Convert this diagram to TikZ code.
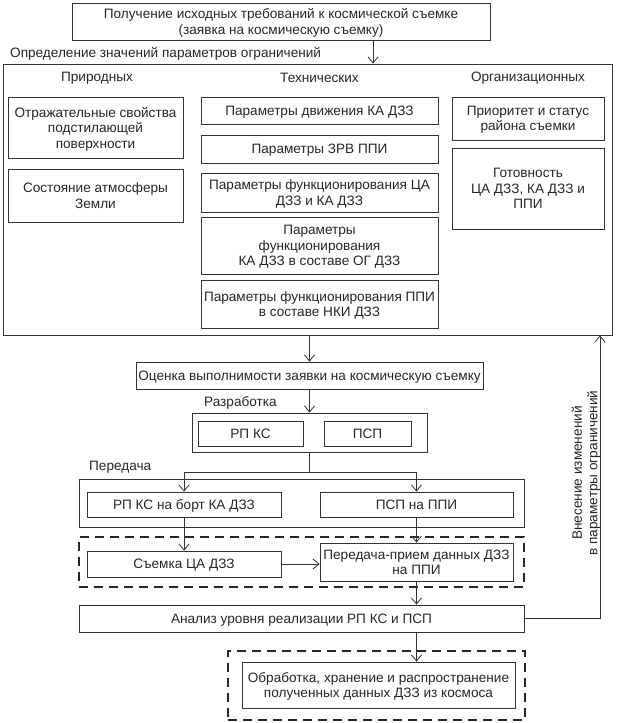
\documentclass[tikz,border=0pt]{standalone}
\usepackage{fontspec}
\setmainfont{Liberation Sans}
\usetikzlibrary{arrows.meta}
\begin{document}
\begin{tikzpicture}[x=1pt,y=-1pt,
  every node/.style={font=\fontsize{13.6}{15.5}\selectfont, text=black!85},
  box/.style={draw=black!80, line width=0.9pt, inner sep=0pt, align=center, text depth=-2pt},
  dbox/.style={draw=black!85, line width=2.2pt, dash pattern=on 9pt off 6pt, inner sep=0pt},
  lbl/.style={inner sep=0pt, anchor=west},
  arr/.style={draw=black!80, line width=0.8pt, -{Straight Barb[length=6pt,width=10pt,line width=0.8pt]}},
  ln/.style={draw=black!80, line width=0.8pt}]
\useasboundingbox (0,0) rectangle (618,723);
% top
\node[box, minimum width=418, minimum height=37] (top) at (281,21.5) {Получение исходных требований к космической съемке\\(заявка на космическую съемку)};
\node[lbl] (deflbl) at (10,54) {Определение значений параметров ограничений};
% big box
\node[box, minimum width=609, minimum height=271] (big) at (307.5,199.5) {};
\node[inner sep=0pt] (h1) at (97,78) {Природных};
\node[inner sep=0pt] (h2) at (319.5,78) {Технических};
\node[inner sep=0pt] (h3) at (528,78) {Организационных};
\node[box, minimum width=175, minimum height=61] (otr) at (95.5,127.5) {Отражательные свойства\\подстилающей\\поверхности};
\node[box, minimum width=175, minimum height=53] (sost) at (95.5,195.5) {Состояние атмосферы\\Земли};
\node[box, minimum width=237, minimum height=27] (dv) at (319.5,110.5) {Параметры движения КА ДЗЗ};
\node[box, minimum width=237, minimum height=28] (zrv) at (319.5,149) {Параметры ЗРВ ППИ};
\node[box, minimum width=237, minimum height=39] (fca) at (319.5,192.5) {Параметры функционирования ЦА\\ДЗЗ и КА ДЗЗ};
\node[box, minimum width=237, minimum height=57] (og) at (319.5,245.5) {Параметры\\функционирования\\КА ДЗЗ в составе ОГ ДЗЗ};
\node[box, minimum width=237, minimum height=48] (nki) at (319.5,304) {Параметры функционирования ППИ\\в составе НКИ ДЗЗ};
\node[box, minimum width=152, minimum height=43] (pri) at (528,118.5) {Приоритет и статус\\района съемки};
\node[box, minimum width=152, minimum height=81] (got) at (528,188.5) {Готовность\\ЦА ДЗЗ, КА ДЗЗ и\\ППИ};
% evaluation
\node[box, minimum width=347, minimum height=27] (oc) at (309.5,375.5) {Оценка выполнимости заявки на космическую съемку};
\node[lbl] (razlbl) at (204,403) {Разработка};
\node[box, minimum width=235, minimum height=39] (razr) at (309.5,432.5) {};
\node[box, minimum width=105, minimum height=25] (rpks) at (250.5,433.5) {РП КС};
\node[box, minimum width=87, minimum height=25] (psp) at (367.5,433.5) {ПСП};
\node[lbl] (perlbl) at (89,467) {Передача};
\node[box, minimum width=445, minimum height=48] (per) at (301.5,503) {};
\node[box, minimum width=194, minimum height=25] (rpb) at (184,504.5) {РП КС на борт КА ДЗЗ};
\node[box, minimum width=193, minimum height=25] (pspp) at (416.5,504.5) {ПСП на ППИ};
\node[dbox, minimum width=445, minimum height=50] (d1) at (301.5,562) {};
\node[box, minimum width=194, minimum height=26] (sy) at (184,564) {Съемка ЦА ДЗЗ};
\node[box, minimum width=193, minimum height=38] (pp) at (416.5,562) {Передача-прием данных ДЗЗ\\на ППИ};
\node[box, minimum width=445, minimum height=27] (an) at (301.5,618.5) {Анализ уровня реализации РП КС и ПСП};
\node[dbox, minimum width=297, minimum height=69] (d2) at (376.5,685.5) {};
\node[box, minimum width=273, minimum height=46] (obr) at (378.5,685) {Обработка, хранение и распространение\\полученных данных ДЗЗ из космоса};
\node[rotate=90, align=center, inner sep=0pt] (fbl) at (586,473) {Внесение изменений\\в параметры ограничений};
% connectors
\coordinate (ax) at (373,0);
\coordinate (fx) at (600,0);
\draw[arr] (top.south -| ax) -- (big.north -| ax);
\draw[arr] (big.south -| oc.north) -- (oc.north);
\draw[arr] (oc.south) -- (razr.north);
\draw[ln] (razr.south) -- ++(0,20) coordinate (sp);
\draw[ln] (sp -| rpb.north) -- (sp -| pspp.north);
\draw[arr] (sp -| rpb.north) -- (rpb.north);
\draw[arr] (sp -| pspp.north) -- (pspp.north);
\draw[arr] (rpb.south) -- (sy.north);
\draw[arr] (pspp.south) -- (pp.north);
\draw[arr] (sy.east) -- (pp.west |- sy.east);
\draw[arr] (pp.south) -- (an.north -| pp.south);
\draw[arr] (an.south -| pp.south) -- (obr.north -| pp.south);
\draw[arr] (an.east) -| (big.south -| fx);
\end{tikzpicture}
\end{document}
